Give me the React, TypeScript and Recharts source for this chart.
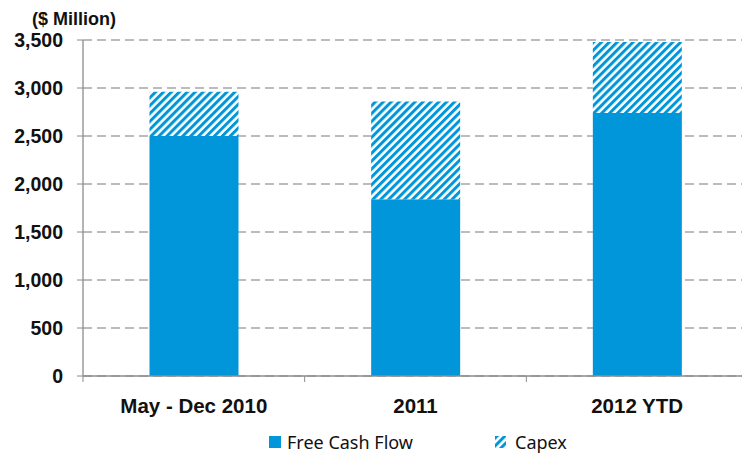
import { BarChart, Bar, XAxis, YAxis, CartesianGrid, Legend } from 'recharts';

const periods = ['May - Dec 2010', '2011', '2012 YTD'];
const freeCashFlow = [2500, 1840, 2740];
const capex = [460, 1020, 740];
const yTicks = [0, 500, 1000, 1500, 2000, 2500, 3000, 3500];

const BLUE = '#0096D9';
const AXIS = '#8C8C8C';
const CHART_W = 748;
const PLOT_LEFT = 83;

const data = periods.map((p, i) => ({
    period: p,
    fcf: freeCashFlow[i],
    capex: capex[i],
}));

const bandWidth = (CHART_W - PLOT_LEFT) / periods.length;

const CategoryTick = (props: any) => {
    const { x, y, payload } = props;
    const left = x - bandWidth / 2;
    return (
        <g>
            <line x1={left} y1={y - 8} x2={left} y2={y - 2} stroke={AXIS} strokeWidth={1} />
            <text
                x={x}
                y={y + 29}
                textAnchor="middle"
                fontFamily="'Liberation Sans', Arial, sans-serif"
                fontWeight="bold"
                fontSize={20.5}
                fill="#111"
            >
                {payload.value}
            </text>
        </g>
    );
};

const LegendContent = () => (
    <div
        style={{
            display: 'flex',
            fontFamily: "'Noto Sans', sans-serif",
            fontSize: 18,
            color: '#111',
            paddingLeft: 269,
            alignItems: 'center',
        }}
    >
        <svg width={12} height={12} style={{ marginRight: 6 }}>
            <rect width={12} height={12} fill={BLUE} />
        </svg>
        <span style={{ width: 208 }}>Free Cash Flow</span>
        <svg width={11} height={12} style={{ marginRight: 9 }}>
            <rect width={11} height={12} fill="url(#capexHatch)" />
        </svg>
        <span>Capex</span>
    </div>
);

export default function App() {
    return (
        <div style={{ position: 'fixed', left: 0, top: 0, width: 742, height: 456, overflow: 'hidden', background: '#fff' }}>
            <div
                style={{
                    position: 'absolute',
                    left: 32,
                    top: 9,
                    fontFamily: "'Liberation Sans', Arial, sans-serif",
                    fontWeight: 'bold',
                    fontSize: 18,
                    lineHeight: '20px',
                    color: '#111',
                }}
            >
                ($ Million)
            </div>
            <BarChart
                width={CHART_W}
                height={456}
                data={data}
                margin={{ top: 40, right: 0, bottom: 0, left: 0 }}
                barCategoryGap="30%"
            >
                <defs>
                    <pattern
                        id="capexHatch"
                        width={5.6}
                        height={5.6}
                        patternUnits="userSpaceOnUse"
                        patternTransform="rotate(45)"
                    >
                        <rect width={5.6} height={5.6} fill="#fff" />
                        <rect width={3} height={5.6} fill={BLUE} />
                    </pattern>
                </defs>
                <CartesianGrid
                    horizontal
                    vertical={false}
                    stroke="#A6A6A6"
                    strokeDasharray="9 5"
                    strokeWidth={1.3}
                />
                <XAxis
                    dataKey="period"
                    height={80}
                    axisLine={{ stroke: AXIS, strokeWidth: 1.3 }}
                    tickLine={false}
                    tick={<CategoryTick />}
                    interval={0}
                />
                <YAxis
                    width={PLOT_LEFT}
                    domain={[0, 3500]}
                    ticks={yTicks}
                    interval={0}
                    tickFormatter={(v: number) => v.toLocaleString('en-US')}
                    axisLine={{ stroke: AXIS, strokeWidth: 1.3 }}
                    tickLine={{ stroke: AXIS }}
                    tickSize={6}
                    tickMargin={14}
                    tick={{
                        fill: '#111',
                        fontSize: 19.5,
                        fontWeight: 'bold',
                        fontFamily: "'Liberation Sans', Arial, sans-serif",
                    }}
                />
                <Legend
                    verticalAlign="middle"
                    align="center"
                    content={<LegendContent />}
                    wrapperStyle={{ left: 0, top: 430, width: 742 }}
                />
                <Bar dataKey="fcf" name="Free Cash Flow" stackId="a" fill={BLUE} isAnimationActive={false} />
                <Bar dataKey="capex" name="Capex" stackId="a" fill="url(#capexHatch)" isAnimationActive={false} />
            </BarChart>
        </div>
    );
}
